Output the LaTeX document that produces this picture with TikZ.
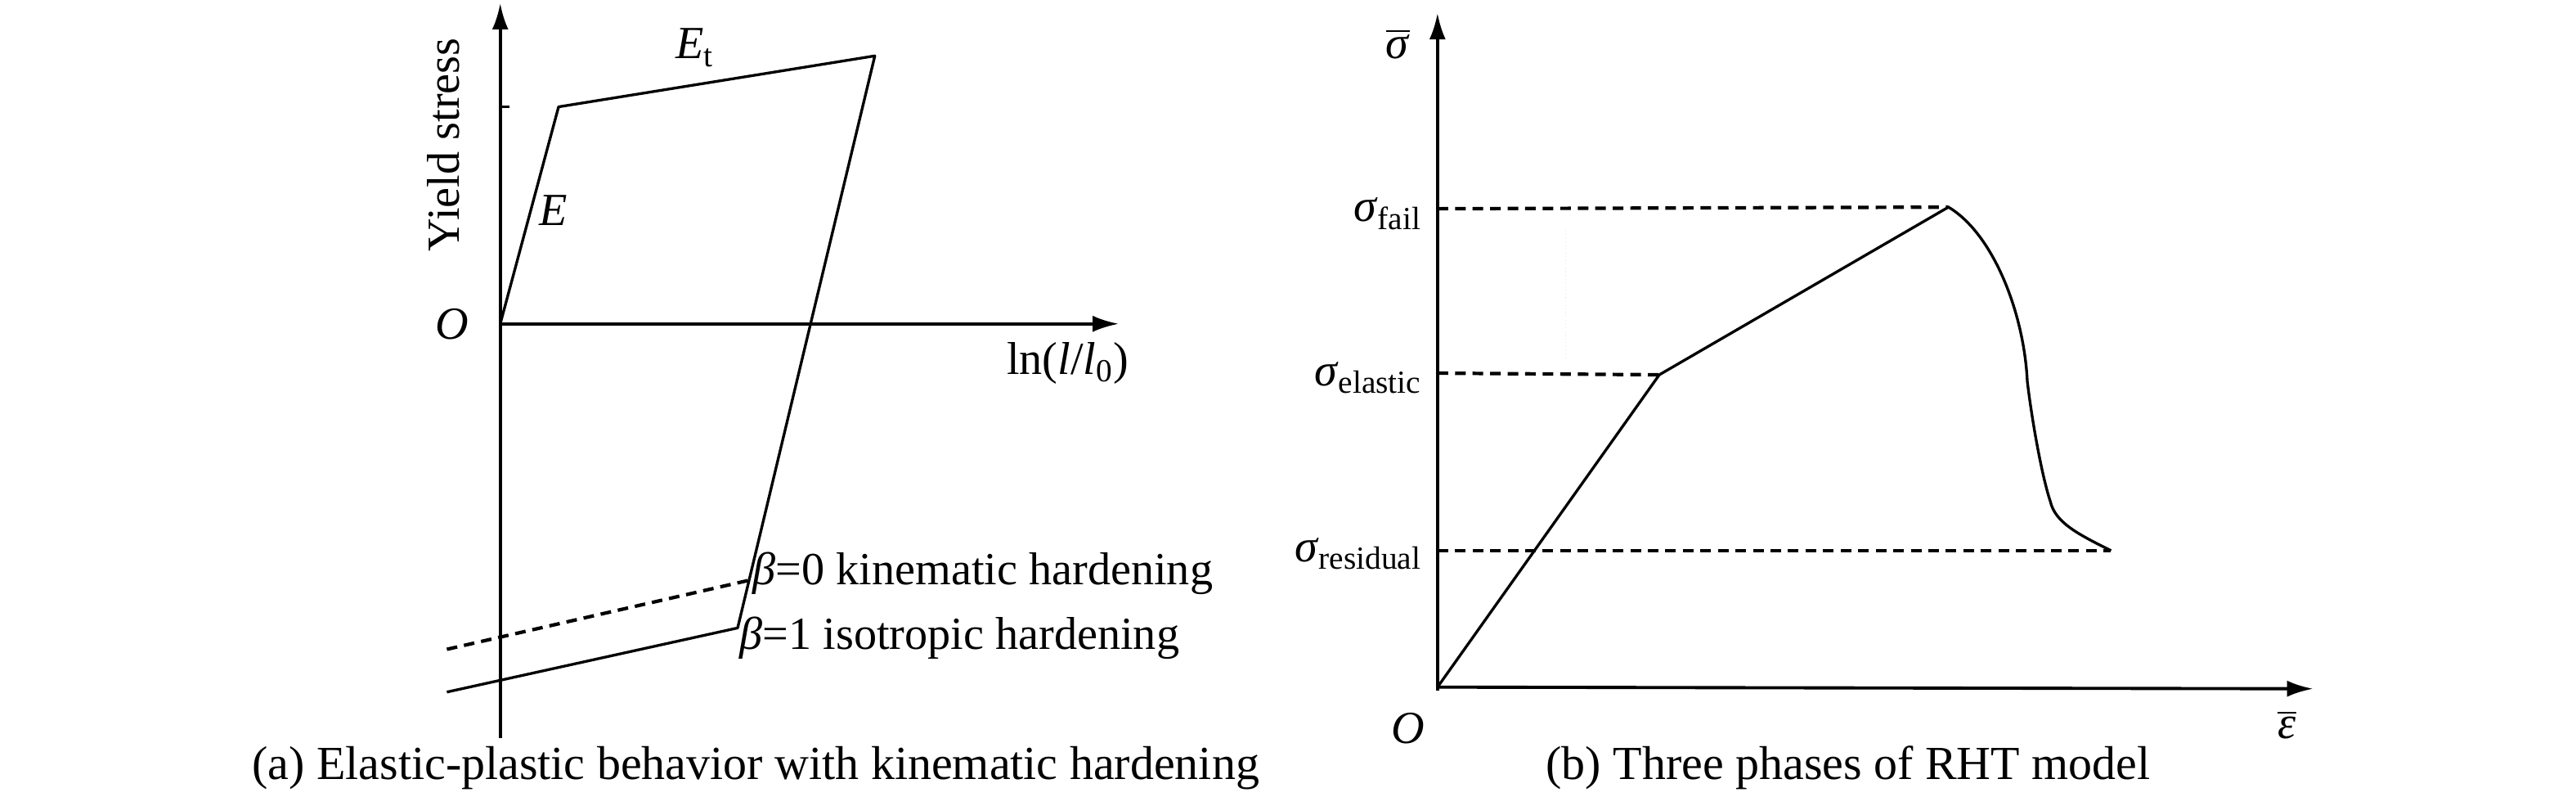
\documentclass[tikz,border=0pt]{standalone}
\usepackage{fontspec}
\setmainfont{Liberation Serif}
\usepackage{tikz}
\usetikzlibrary{arrows.meta}

\tikzset{
  axis/.style={line width=1.1pt, -{Latex[length=3.2mm,width=2mm]}},
  curve/.style={line width=0.95pt, line join=round},
  guide/.style={line width=1.2pt, dash pattern=on 3.7pt off 2.4pt},
  lbl/.style={inner sep=0pt, font=\fontsize{16}{19}\selectfont},
  capt/.style={inner sep=0pt, font=\fontsize{16.5}{19}\selectfont},
}

\begin{document}
\begin{tikzpicture}[x=0.02009cm, y=-0.02009cm]
  \useasboundingbox (0,0) rectangle (1568,490);

  % (a) elastic-plastic
  \coordinate (oa) at (304.5,197);
  \coordinate (ba) at (304.5,449);
  \coordinate (ta) at (304.5,2);
  \coordinate (ra) at (681,197);
  \coordinate (ya0) at (304.5,65);
  \coordinate (tk) at (310,65);
  \coordinate (ya) at (340,65);
  \coordinate (pa) at (532.5,34);
  \coordinate (ua) at (449,382);
  \coordinate (la) at (272,421);
  \coordinate (ka) at (456,353);
  \coordinate (kl) at (272,395);

  \draw [axis] (ba) to (ta);
  \draw [axis] (oa) to (ra);
  \draw [line width=1.1pt] (ya0) to (tk);
  \draw [curve] (oa) to (ya) to (pa) to (ua) to (la);
  \draw [guide] (kl) to (ka);

  \node [lbl, rotate=90] (ys) at (270,88) {Yield stress};
  \node [lbl] (et) at (423,29) {\textit{E}\textsubscript{t}};
  \node [lbl] (e) at (337,128) {\textit{E}};
  \node [lbl] (o1) at (275,197) {\textit{O}};
  \node [lbl] (lnl) at (650,221) {ln(\textit{l}/\textit{l}\textsubscript{0})};
  \node [lbl, anchor=west] (k0) at (458,349) {\textit{β}=0 kinematic hardening};
  \node [lbl, anchor=west] (k1) at (450,388) {\textit{β}=1 isotropic hardening};
  \node [capt] (capa) at (460,467) {(a) Elastic-plastic behavior with kinematic hardening};

  % (b) RHT model
  \coordinate (ob) at (875,418);
  \coordinate (bb) at (875,420);
  \coordinate (tb) at (875,8);
  \coordinate (rb) at (1408,419);
  \coordinate (eb) at (1010,228);
  \coordinate (fb) at (1186,126);
  \coordinate (mb) at (1234,232);
  \coordinate (nb) at (1248,305);
  \coordinate (sb) at (1285,335);
  \coordinate (fl) at (875,127);
  \coordinate (el) at (875,227);
  \coordinate (sl) at (875,335);

  \draw [axis] (bb) to (tb);
  \draw [axis] (ob) to (rb);
  \draw [guide] (fl) to (fb);
  \draw [guide] (el) to (eb);
  \draw [guide] (sl) to (sb);
  \draw [gray!20, line width=0.3pt, densely dotted] (953,140) to (953,218);
  \draw [curve] (ob) to (eb) to (fb)
    .. controls (1213,142) and (1232,190) .. (mb)
    .. controls (1237,257) and (1243,290) .. (nb)
    .. controls (1251,318) and (1265,325) .. (sb);

  \node [lbl] (sg) at (851,27) {$\overline{\mbox{\textit{σ}}}$};
  \node [lbl, anchor=east] (sf) at (866,130) {\textit{σ}\textsubscript{fail}};
  \node [lbl, anchor=east] (se) at (866,230) {\textit{σ}\textsubscript{elastic}};
  \node [lbl, anchor=east] (sr) at (866,337) {\textit{σ}\textsubscript{residual}};
  \node [lbl] (o2) at (857,443) {\textit{O}};
  \node [lbl] (ep) at (1392,441) {$\overline{\mbox{\textit{ε}}}$};
  \node [capt] (capb) at (1125,467) {(b) Three phases of RHT model};

\end{tikzpicture}
\end{document}
